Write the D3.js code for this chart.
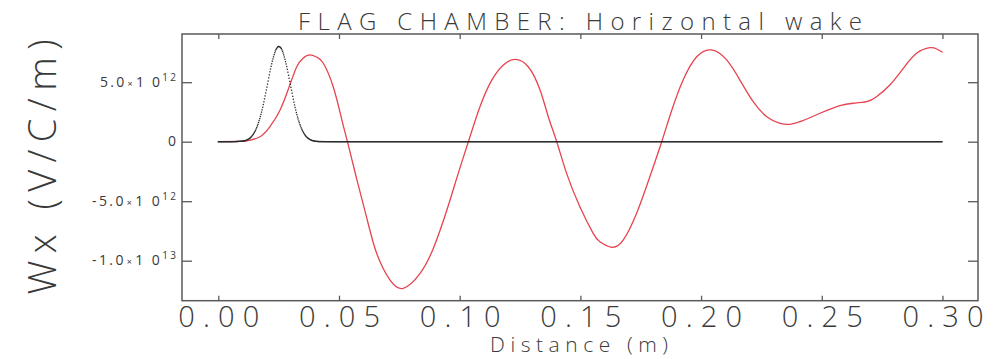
<!DOCTYPE html>
<html>
<head>
<meta charset="utf-8">
<script src="https://cdn.jsdelivr.net/npm/d3@7"></script>
<style>
  html, body { margin: 0; padding: 0; background: #fff; }
  svg { display: block; }
  text { font-family: "Open Sans", "DejaVu Sans", sans-serif; font-weight: 300; fill: #3a3a3a; }
</style>
</head>
<body>
<svg id="chart" width="997" height="359"></svg>
<script>
// Horizontal wake potential (red) and bunch profile (black dots)
const wakeDist = [0.000, 0.0090, 0.0118, 0.0173, 0.0214, 0.0256, 0.0297, 0.0325, 0.0350, 0.0380, 0.0410, 0.0435, 0.0476, 0.0511, 0.0535,
  0.0573, 0.0615, 0.0656, 0.0711, 0.0766, 0.0836, 0.0891, 0.0946, 0.0994, 0.1036, 0.1084, 0.1133, 0.1181, 0.1229,
  0.1284, 0.1333, 0.1367, 0.1402, 0.1443, 0.1498, 0.1553, 0.1581, 0.1630, 0.1678, 0.1733, 0.1788, 0.1837, 0.1878,
  0.1926, 0.1982, 0.2044, 0.2106, 0.2161, 0.2216, 0.2272, 0.2327, 0.2368, 0.2410, 0.2493, 0.2575, 0.2630, 0.2686,
  0.2727, 0.2782, 0.2838, 0.2893, 0.2948, 0.2976, 0.3001];
const wakeValue = [0, 0.02e12, 0.06e12, 0.42e12, 1.26e12, 2.66e12, 4.80e12, 6.30e12, 7.00e12, 7.29e12, 7.08e12, 6.59e12, 4.62e12, 1.90e12, 0,
  -3.10e12, -6.40e12, -9.38e12, -11.62e12, -12.32e12, -11.06e12, -8.95e12, -5.80e12, -2.66e12, 0, 2.94e12, 5.18e12, 6.45e12, 6.92e12,
  6.30e12, 4.34e12, 2.10e12, 0, -2.66e12, -5.46e12, -7.70e12, -8.40e12, -8.87e12, -8.26e12, -6.02e12, -2.94e12, 0, 2.60e12,
  5.20e12, 7.14e12, 7.71e12, 6.87e12, 5.18e12, 3.36e12, 2.10e12, 1.55e12, 1.46e12, 1.68e12, 2.39e12, 3.03e12, 3.23e12, 3.36e12,
  3.78e12, 4.76e12, 6.17e12, 7.43e12, 7.90e12, 7.79e12, 7.51e12];

const bunchDist = [0.000, 0.005, 0.010, 0.012, 0.014, 0.016, 0.018, 0.020, 0.022, 0.024, 0.025, 0.026, 0.028, 0.030,
  0.032, 0.034, 0.036, 0.038, 0.040, 0.042, 0.050, 0.100, 0.150, 0.200, 0.250, 0.300];
const bunchValue = [0, 0, 0.05e12, 0.16e12, 0.49e12, 1.23e12, 2.56e12, 4.44e12, 6.44e12, 7.78e12, 8.0e12, 7.86e12, 6.61e12, 4.65e12,
  2.72e12, 1.34e12, 0.54e12, 0.18e12, 0.05e12, 0.01e12, 0, 0, 0, 0, 0, 0];

const xTicks = [0.00, 0.05, 0.10, 0.15, 0.20, 0.25, 0.30];
const xTickLabels = ["0.00", "0.05", "0.10", "0.15", "0.20", "0.25", "0.30"];
const yTicks = [-1e13, -5e12, 0, 5e12];
const yTickMantissa = ["-1.0", "-5.0", "0", "5.0"];
const yTickExponent = ["13", "12", "", "12"];

const titleText = "FLAG CHAMBER: Horizontal wake";
const xTitle = "Distance (m)";
const yTitle = "Wx (V/C/m)";

const svg = d3.select("#chart");
const plot = { left: 182, top: 34, right: 978, bottom: 300.7 };

const x = d3.scaleLinear().domain([-0.01504, 0.31473]).range([plot.left, plot.right]);
const y = d3.scaleLinear().domain([-1.3361e13, 9.050e12]).range([plot.bottom, plot.top]);

// wake curve
const wakeData = wakeDist.map((d, i) => [d, wakeValue[i]]);
const wakeLine = d3.line().x(d => x(d[0])).y(d => y(d[1])).curve(d3.curveNatural);
svg.append("path")
  .attr("d", wakeLine(wakeData))
  .attr("fill", "none")
  .attr("stroke", "#e6444f")
  .attr("stroke-width", 1.3);

// bunch profile, plotted as dots at evenly spaced distance samples
const bunchData = bunchDist.map((d, i) => [d, bunchValue[i]]);
const bunchLine = d3.line().x(d => x(d[0])).y(d => y(d[1])).curve(d3.curveMonotoneX);
const guide = svg.append("path")
  .attr("d", bunchLine(bunchData))
  .attr("fill", "none")
  .attr("stroke", "none");
const node = guide.node();
const total = node.getTotalLength();
const dots = [];
const stepX = 0.6;
let nextX = x(bunchDist[0]);
for (let l = 0; l <= total; l += 0.2) {
  const p = node.getPointAtLength(l);
  if (p.x >= nextX) {
    dots.push([p.x, p.y]);
    nextX += stepX;
  }
}
svg.append("g").selectAll("rect")
  .data(dots)
  .join("rect")
  .attr("x", d => d[0] - 0.65)
  .attr("y", d => d[1] - 0.65)
  .attr("width", 1.3)
  .attr("height", 1.3)
  .attr("fill", "#2a2a2a");

// frame
svg.append("rect")
  .attr("x", plot.left).attr("y", plot.top)
  .attr("width", plot.right - plot.left).attr("height", plot.bottom - plot.top)
  .attr("fill", "none").attr("stroke", "#5a5a5a").attr("stroke-width", 1.5);

// x ticks (inward, top and bottom)
const axisColor = "#5a5a5a";
const xAxisB = d3.axisBottom(x).tickValues(xTicks).tickSizeInner(-5).tickSizeOuter(0).tickFormat((d, i) => xTickLabels[i]);
const gxb = svg.append("g").attr("transform", `translate(0,${plot.bottom})`).call(xAxisB);
gxb.select(".domain").remove();
gxb.selectAll(".tick line").attr("stroke", axisColor).attr("stroke-width", 1.3);
gxb.selectAll(".tick text")
  .attr("y", 26).attr("dy", null)
  .attr("font-size", 29)
  .attr("textLength", 81).attr("lengthAdjust", "spacing")
  .style("font-family", "\"Open Sans\", \"DejaVu Sans\", sans-serif")
  .style("font-weight", 300)
  .attr("fill", "#4a4a4a");

const xAxisT = d3.axisTop(x).tickValues(xTicks).tickSizeInner(-5).tickSizeOuter(0).tickFormat("");
const gxt = svg.append("g").attr("transform", `translate(0,${plot.top})`).call(xAxisT);
gxt.select(".domain").remove();
gxt.selectAll(".tick line").attr("stroke", axisColor).attr("stroke-width", 1.3);

// y ticks (inward, left and right)
const yAxisL = d3.axisLeft(y).tickValues(yTicks).tickSizeInner(-10).tickSizeOuter(0).tickFormat("");
const gyl = svg.append("g").attr("transform", `translate(${plot.left},0)`).call(yAxisL);
gyl.select(".domain").remove();
gyl.selectAll(".tick line").attr("stroke", axisColor).attr("stroke-width", 1.3);

const yAxisR = d3.axisRight(y).tickValues(yTicks).tickSizeInner(-10).tickSizeOuter(0).tickFormat("");
const gyr = svg.append("g").attr("transform", `translate(${plot.right},0)`).call(yAxisR);
gyr.select(".domain").remove();
gyr.selectAll(".tick line").attr("stroke", axisColor).attr("stroke-width", 1.3);

// y tick labels with scientific notation
const yLab = svg.append("g");
yTicks.forEach((v, i) => {
  const t = yLab.append("text")
    .attr("x", plot.left - 6)
    .attr("y", y(v) + 4.5)
    .attr("text-anchor", "end")
    .attr("font-size", 14)
    .style("font-weight", 400)
    .attr("fill", "#3a3a3a");
  t.append("tspan").text(yTickMantissa[i]);
  if (yTickExponent[i]) {
    t.append("tspan").attr("font-size", 9).attr("dx", 1).text("\u00d7");
    t.append("tspan").attr("dx", 1).text("1 0");
    t.append("tspan").attr("font-size", 10).attr("dy", -6).text(yTickExponent[i]);
    t.attr("textLength", yTickMantissa[i].length === 4 ? 84 : 76).attr("lengthAdjust", "spacing");
  }
});

// titles
svg.append("text")
  .attr("x", (plot.left + plot.right) / 2)
  .attr("y", 30)
  .attr("text-anchor", "middle")
  .attr("font-size", 24)
  .attr("textLength", 564).attr("lengthAdjust", "spacing")
  .text(titleText);

svg.append("text")
  .attr("x", 579)
  .attr("y", 352)
  .attr("text-anchor", "middle")
  .attr("font-size", 21)
  .attr("textLength", 178).attr("lengthAdjust", "spacing")
  .text(xTitle);

svg.append("text")
  .attr("transform", "translate(56,167) rotate(-90)")
  .attr("text-anchor", "middle")
  .attr("font-size", 38)
  .attr("textLength", 255).attr("lengthAdjust", "spacing")
  .attr("fill", "#4a4a4a")
  .text(yTitle);
</script>
</body>
</html>
